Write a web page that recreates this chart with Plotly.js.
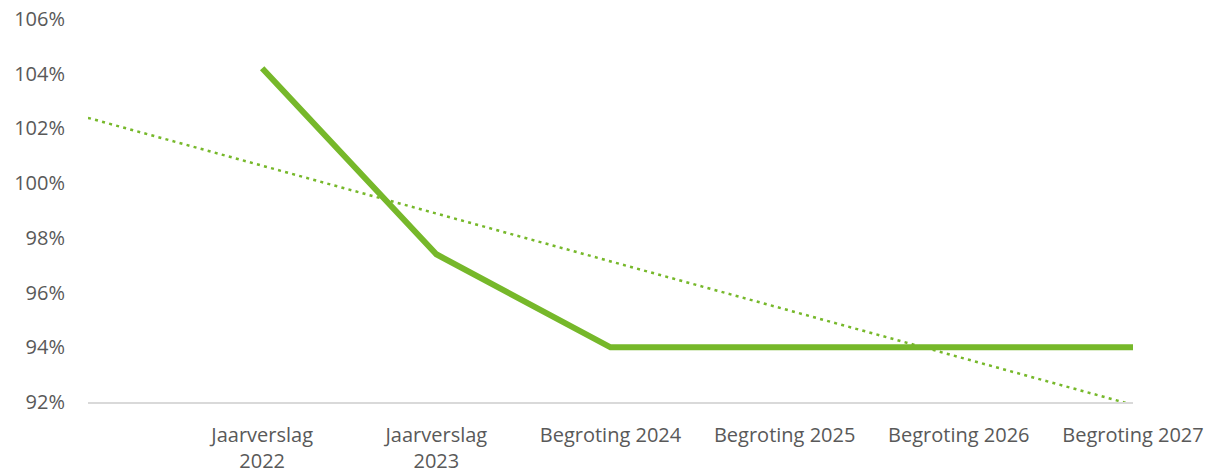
<!DOCTYPE html>
<html>
<head>
<meta charset="utf-8">
<script src="https://cdn.plot.ly/plotly-3.0.1.min.js"></script>
<style>
  html, body { margin: 0; padding: 0; background: #fff; }
  #chart { width: 1207px; height: 473px; }
</style>
</head>
<body>
<div id="chart"></div>
<script>
// Categories (first category is empty in the source chart)
const categories = ['', 'Jaarverslag<br>2022', 'Jaarverslag<br>2023', 'Begroting 2024', 'Begroting 2025', 'Begroting 2026', 'Begroting 2027'];
// Series values (ratio); null = no value for that category
const values = [null, 1.042, 0.974, 0.940, 0.940, 0.940, 0.940];
const yTicks = [0.92, 0.94, 0.96, 0.98, 1.00, 1.02, 1.04, 1.06];

const xIdx = categories.map((_, i) => i);

// Linear trendline (least squares over the available points), drawn over the full category range
const pts = xIdx.map((x, i) => [x, values[i]]).filter(p => p[1] !== null);
const n = pts.length;
const mx = pts.reduce((s, p) => s + p[0], 0) / n;
const my = pts.reduce((s, p) => s + p[1], 0) / n;
let sxy = 0, sxx = 0;
pts.forEach(p => { sxy += (p[0] - mx) * (p[1] - my); sxx += (p[0] - mx) * (p[0] - mx); });
const slope = sxy / sxx;
const intercept = my - slope * mx;
const trendX = [xIdx[0], xIdx[xIdx.length - 1]];
const trendY = trendX.map(x => intercept + slope * x);

const green = '#76B82A';

const traces = [
  {
    x: trendX, y: trendY, type: 'scatter', mode: 'lines',
    line: { color: green, width: 2.5, dash: '3px,4.3px' },
    hoverinfo: 'skip', showlegend: false, cliponaxis: true
  },
  {
    x: xIdx, y: values, type: 'scatter', mode: 'lines',
    line: { color: green, width: 6 },
    connectgaps: false, showlegend: false
  }
];

const layout = {
  width: 1207, height: 473,
  margin: { l: 88, r: 74, t: 19, b: 71 },
  paper_bgcolor: '#ffffff', plot_bgcolor: '#ffffff',
  font: { family: 'Open Sans, Liberation Sans, sans-serif', size: 20, color: '#595959' },
  showlegend: false,
  xaxis: {
    range: [0, 6],
    tickmode: 'array', tickvals: xIdx, ticktext: categories,
    showgrid: false, zeroline: false,
    showline: true, linecolor: '#D9D9D9', linewidth: 1.5,
    ticks: '', ticklabelstandoff: 14,
    tickfont: { size: 20, color: '#595959' },
    fixedrange: true
  },
  yaxis: {
    range: [0.92, 1.06],
    tickmode: 'array', tickvals: yTicks,
    tickformat: '.0%',
    showgrid: false, zeroline: false, showline: false,
    ticks: '', ticklabelstandoff: 22,
    tickfont: { size: 20, color: '#595959' },
    fixedrange: true
  }
};

Plotly.newPlot('chart', traces, layout, { displayModeBar: false, staticPlot: true });
</script>
</body>
</html>
